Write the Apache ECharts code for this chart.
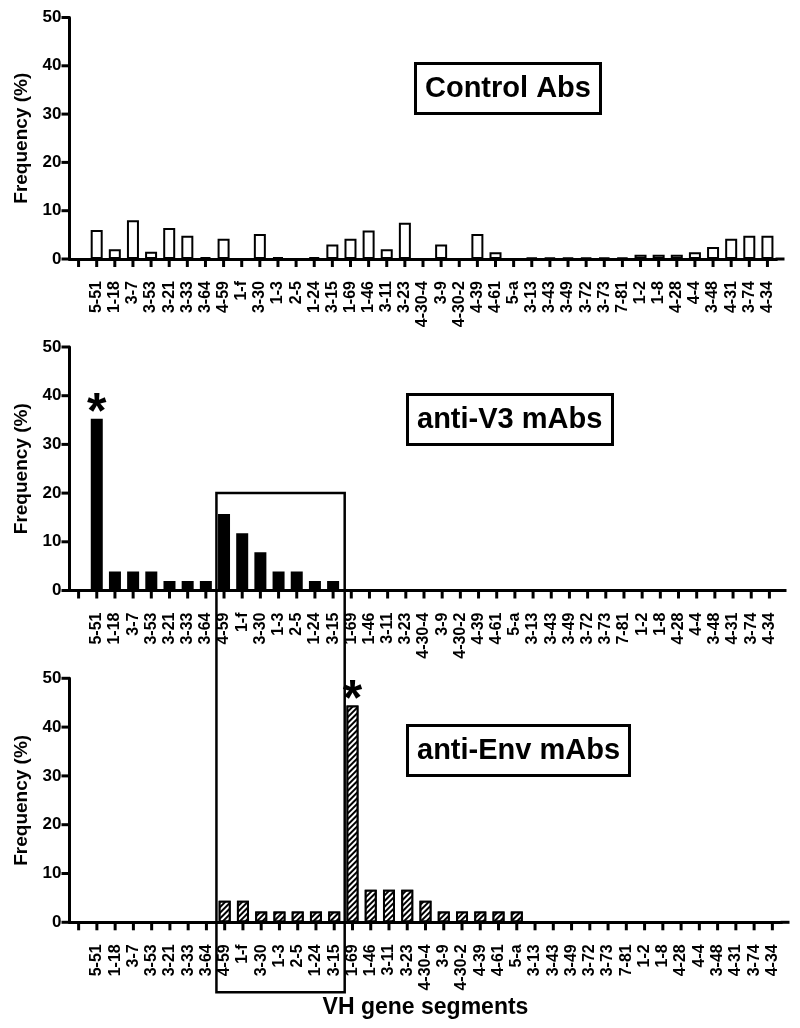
<!DOCTYPE html>
<html>
<head>
<meta charset="utf-8">
<style>
html,body{margin:0;padding:0;background:#fff;}
#chart{width:800px;height:1028px;}
</style>
<script src="https://cdn.jsdelivr.net/npm/echarts@6/dist/echarts.min.js"></script>
</head>
<body>
<div id="chart"></div>
<script>
// ---- data ----
const categories = ['', '5-51','1-18','3-7','3-53','3-21','3-33','3-64','4-59','1-f','3-30','1-3','2-5','1-24','3-15',
  '1-69','1-46','3-11','3-23','4-30-4','3-9','4-30-2','4-39','4-61','5-a','3-13','3-43','3-49','3-72','3-73','7-81',
  '1-2','1-8','4-28','4-4','3-48','4-31','3-74','4-34'];
const controlValues = ['-', 6.0,2.0,8.0,1.5,6.4,4.8,0.4,4.2,0,5.2,0.4,0,0.4,3.0,
  4.2,5.9,2.0,7.5,0,3.0,0,5.2,1.4,0,0.3,0.3,0.3,0.3,0.3,0.3,
  0.9,0.9,0.9,1.4,2.5,4.2,4.8,4.8];
const v3Values = ['-', 35.29,3.92,3.92,3.92,1.96,1.96,1.96,15.69,11.76,7.84,3.92,3.92,1.96,1.96,
  0,0,0,0,0,0,0,0,0,0,0,0,0,0,0,0,
  0,0,0,0,0,0,0,0];
const envValues = ['-', 0,0,0,0,0,0,0,4.44,4.44,2.22,2.22,2.22,2.22,2.22,
  44.44,6.67,6.67,6.67,4.44,2.22,2.22,2.22,2.22,2.22,0,0,0,0,0,0,
  0,0,0,0,0,0,0,0];
const panelTitles = ['Control Abs', 'anti-V3 mAbs', 'anti-Env mAbs'];
const starred = [[], ['5-51'], ['1-69']];
const yTicks = [0, 10, 20, 30, 40, 50];
const boxedRange = ['4-59', '3-15'];

const FONT = "'Liberation Sans', Arial, Helvetica, sans-serif";
const chart = echarts.init(document.getElementById('chart'), null, {renderer: 'canvas'});

const grids = [
  {left: 69.5, top: 17.5, width: 707, height: 241.5},
  {left: 69.5, top: 347, width: 709, height: 243.5},
  {left: 69.5, top: 678.3, width: 712, height: 244}
];
const titlePos = [{left: 415, top: 63}, {left: 407, top: 394}, {left: 407, top: 725}];

function makeData(vals, stars) {
  return vals.map((v, i) => {
    if (stars.indexOf(categories[i]) >= 0) {
      return {value: v, label: {show: true, formatter: '*', position: 'top', distance: -21,
        fontSize: 50, fontWeight: 'bold', color: '#000', fontFamily: FONT}};
    }
    return v;
  });
}

const xAxes = grids.map((g, i) => ({
  type: 'category', gridIndex: i, data: categories,
  boundaryGap: true,
  axisLine: {show: true, lineStyle: {color: '#000', width: 3}},
  axisTick: {show: false},
  axisLabel: {show: true, interval: 0, rotate: 90, margin: 22, color: '#000', fontSize: 16, fontWeight: 'bold', fontFamily: FONT},
  name: i === 2 ? 'VH gene segments' : '',
  nameLocation: 'middle', nameGap: 74,
  nameTextStyle: {color: '#000', fontSize: 23, fontWeight: 'bold', fontFamily: FONT}
}));
const yAxes = grids.map((g, i) => ({
  type: 'value', gridIndex: i, min: yTicks[0], max: yTicks[yTicks.length - 1], interval: yTicks[1] - yTicks[0],
  axisLine: {show: true, lineStyle: {color: '#000', width: 3}},
  axisTick: {show: false},
  splitLine: {show: false},
  axisLabel: {margin: 8, color: '#000', fontSize: 17, fontWeight: 'bold', fontFamily: FONT},
  name: 'Frequency (%)', nameLocation: 'middle', nameGap: 36,
  nameTextStyle: {color: '#000', fontSize: 19, fontWeight: 'bold', fontFamily: FONT}
}));

const styles = [
  {color: '#fff', borderColor: '#000', borderWidth: 2},
  {color: '#000', borderColor: '#000', borderWidth: 2},
  {color: '#fff', borderColor: '#000', borderWidth: 2,
   decal: {symbol: 'rect', symbolSize: 1, color: '#000', backgroundColor: '#fff',
     dashArrayX: [1, 0], dashArrayY: [1.5, 2], rotation: -Math.PI / 4}}
];
const seriesVals = [controlValues, v3Values, envValues];

const option = {
  animation: false,
  backgroundColor: '#fff',
  title: panelTitles.map((t, i) => ({
    text: t, left: titlePos[i].left, top: titlePos[i].top,
    padding: [10, 10], borderColor: '#000', borderWidth: 3,
    textStyle: {color: '#000', fontSize: 29, fontWeight: 'bold', fontFamily: FONT, lineHeight: 31}
  })),
  grid: grids,
  xAxis: xAxes,
  yAxis: yAxes,
  series: seriesVals.map((vals, i) => ({
    type: 'bar', xAxisIndex: i, yAxisIndex: i, barWidth: 12, z: 1,
    itemStyle: styles[i], data: makeData(vals, starred[i])
  }))
};
chart.setOption(option);

// tick marks, placed through each axis' own scale
const tickStyle = {stroke: '#000', lineWidth: 3};
const gfx = [];
grids.forEach((g, i) => {
  const y0 = chart.convertToPixel({yAxisIndex: i}, 0);
  const xAxisX = chart.convertToPixel({xAxisIndex: i}, 0) - (chart.convertToPixel({xAxisIndex: i}, 1) - chart.convertToPixel({xAxisIndex: i}, 0)) / 2;
  categories.forEach((c, k) => {
    const x = chart.convertToPixel({xAxisIndex: i}, k);
    gfx.push({type: 'line', silent: true, z: 50, shape: {x1: x, y1: y0, x2: x, y2: y0 + 8}, style: tickStyle});
  });
  yTicks.forEach(v => {
    const y = chart.convertToPixel({yAxisIndex: i}, v);
    gfx.push({type: 'line', silent: true, z: 50, shape: {x1: xAxisX - 8, y1: y, x2: xAxisX, y2: y}, style: tickStyle});
  });
  // small extension of the x-axis line past the last band, as in the original
  const xEnd = g.left + g.width;
  gfx.push({type: 'line', silent: true, z: 50, shape: {x1: xEnd - 1, y1: y0, x2: xEnd + 8, y2: y0}, style: tickStyle});
});

// annotation box spanning middle and bottom panels
const iL = categories.indexOf(boxedRange[0]);
const iR = categories.indexOf(boxedRange[1]);
const xL = chart.convertToPixel({xAxisIndex: 1}, iL);
const band = chart.convertToPixel({xAxisIndex: 1}, iL + 1) - xL;
const xR = chart.convertToPixel({xAxisIndex: 1}, iR);
const yTop = chart.convertToPixel({yAxisIndex: 1}, 20);
const yBot = chart.convertToPixel({yAxisIndex: 2}, 0) + 70;
gfx.push({
  type: 'rect', silent: true, z: 100,
  shape: {x: xL - band / 2 + 1.5, y: yTop, width: (xR - xL) + band + 1, height: yBot - yTop},
  style: {fill: 'none', stroke: '#000', lineWidth: 2.5}
});
chart.setOption({graphic: gfx});
</script>
</body>
</html>
